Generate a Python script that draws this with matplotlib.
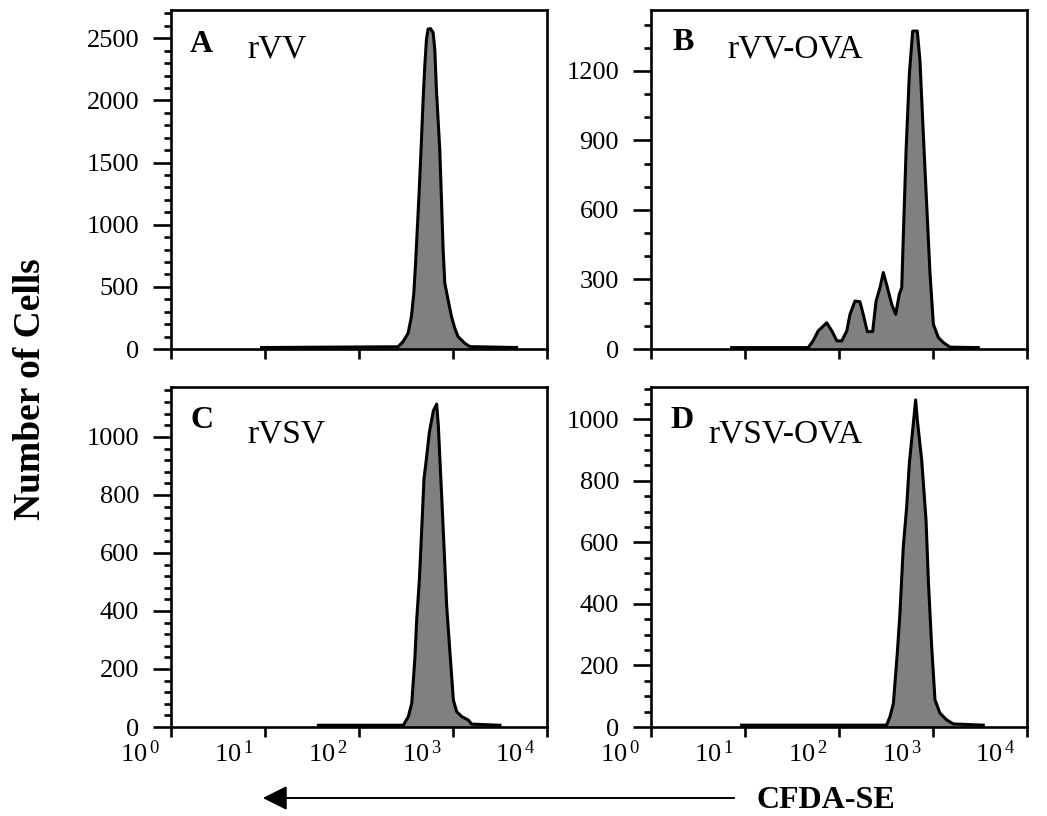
import matplotlib
matplotlib.use("Agg")
import matplotlib.pyplot as plt
import matplotlib.transforms as mtransforms
from matplotlib.patches import FancyArrowPatch
from matplotlib.ticker import MultipleLocator, LogLocator, NullFormatter, FixedLocator

plt.rcParams["font.family"] = ["Liberation Serif", "DejaVu Serif"]
plt.rcParams["mathtext.fontset"] = "custom"
plt.rcParams["mathtext.rm"] = "Liberation Serif"

# CFDA-SE intensity (x) and cell counts (y)
a_x = [9.2, 260, 294, 333, 361, 383, 398, 415, 436, 462, 481, 501, 522, 543, 575,
       614, 640, 666, 723, 754, 785, 818, 887, 964, 1045, 1133, 1336, 1511, 4750]
a_y = [12, 18, 59, 127, 260, 449, 664, 933, 1256, 1685, 2008, 2277, 2492, 2573, 2578,
       2546, 2411, 2089, 1605, 1202, 798, 530, 395, 260, 167, 99, 46, 19, 12]

b_x = [7.2, 47, 53, 60, 68, 74, 84, 95, 107, 121, 131, 148, 167, 181, 200, 228, 248,
       273, 296, 322, 364, 401, 438, 465, 484, 517, 560, 608, 681, 727, 789, 870, 929,
       1009, 1138, 1288, 1517, 3035]
b_y = [6, 6, 35, 78, 99, 113, 78, 35, 35, 78, 150, 207, 204, 150, 75, 75, 207,
       265, 330, 276, 193, 150, 236, 265, 495, 855, 1186, 1372, 1372, 1243, 926, 567, 327,
       107, 50, 28, 8, 6]

c_x = [37, 296, 335, 364, 379, 394, 411, 439, 465, 491, 516, 560, 618, 670, 698, 740,
       802, 857, 929, 1009, 1094, 1236, 1455, 1581, 3160]
c_y = [6, 6, 36, 82, 163, 243, 370, 509, 682, 855, 912, 1015, 1090, 1113, 1039, 866,
       624, 416, 255, 93, 53, 36, 24, 10, 6]

d_x = [9.2, 321, 349, 379, 417, 445, 483, 525, 560, 608, 654, 681, 758, 843, 892, 968,
       1050, 1186, 1398, 1645, 3430]
d_y = [6, 6, 34, 77, 240, 370, 586, 716, 857, 966, 1063, 998, 868, 673, 478, 261,
       88, 45, 23, 10, 6]

letters = ["A", "B", "C", "D"]
names = ["rVV", "rVV-OVA", "rVSV", "rVSV-OVA"]
ymax = [2727, 1463, 1172, 1105]
ymajor = [500, 300, 200, 200]
yminor = [100, 100, 40, 50]
ytop_tick = [2500, 1200, 1000, 1000]
xdecades = [1, 10, 100, 1000, 10000]
xlabels = [r"$\mathregular{10^{\,%d}}$" % i for i in range(5)]

fig = plt.figure(figsize=(10.47, 8.16), dpi=100)
W, H = 1047.0, 816.0
rects = [
    (171 / W, 1 - 349 / H, 376 / W, 339 / H),
    (651 / W, 1 - 349 / H, 376 / W, 339 / H),
    (171 / W, 1 - 727 / H, 376 / W, 340 / H),
    (651 / W, 1 - 727 / H, 376 / W, 340 / H),
]
letter_pos = [(0.051, 0.876), (0.056, 0.882), (0.053, 0.879), (0.051, 0.879)]
name_pos = [(0.202, 0.861), (0.202, 0.861), (0.202, 0.838), (0.152, 0.838)]
data = [(a_x, a_y), (b_x, b_y), (c_x, c_y), (d_x, d_y)]

for i, (xs, ys) in enumerate(data):
    ax = fig.add_axes(rects[i])
    ax.fill_between(xs, ys, 0, color="#808080", lw=0)
    ax.plot(xs, ys, color="black", lw=2.2, solid_joinstyle="round")
    ax.set_xscale("log")
    ax.set_xlim(1, 10000)
    ax.set_ylim(0, ymax[i])
    for s in ax.spines.values():
        s.set_linewidth(1.9)
    ax.yaxis.set_major_locator(FixedLocator(range(0, ytop_tick[i] + 1, ymajor[i])))
    ax.yaxis.set_minor_locator(MultipleLocator(yminor[i]))
    ax.xaxis.set_major_locator(FixedLocator(xdecades))
    ax.xaxis.set_minor_locator(LogLocator(base=10, subs=range(2, 10)))
    ax.xaxis.set_minor_formatter(NullFormatter())
    ax.tick_params(axis="y", which="major", direction="out", length=13, width=1.9,
                   labelsize=19, pad=10)
    ax.tick_params(axis="y", which="minor", direction="out", length=5, width=1.9)
    ax.tick_params(axis="x", which="major", direction="out", length=7, width=1.9,
                   labelsize=19, pad=3)
    ax.tick_params(axis="x", which="minor", direction="out", length=3, width=1.6)
    if i >= 2:
        ax.set_xticklabels(xlabels)
        offset = mtransforms.ScaledTranslation(-8 / 72, 0, fig.dpi_scale_trans)
        for lab in ax.get_xticklabels():
            lab.set_horizontalalignment("right")
            lab.set_transform(lab.get_transform() + offset)
    else:
        ax.set_xticklabels([])
    ax.text(letter_pos[i][0], letter_pos[i][1], letters[i], transform=ax.transAxes,
            fontsize=23, fontweight="bold", va="baseline", ha="left")
    ax.text(name_pos[i][0], name_pos[i][1], names[i], transform=ax.transAxes,
            fontsize=24, va="baseline", ha="left")

fig.text(31 / W, 1 - 389 / H, "Number of Cells", rotation=90, fontsize=27,
         fontweight="bold", ha="center", va="center")
fig.text(826 / W, 1 - 800 / H, "CFDA-SE", fontsize=23, fontweight="bold",
         ha="center", va="center")
arrow = FancyArrowPatch((737 / W, 1 - 798 / H), (260 / W, 1 - 798 / H),
                        transform=fig.transFigure,
                        arrowstyle="-|>,head_length=1.0,head_width=0.5",
                        mutation_scale=15, lw=1.4, color="black")
fig.add_artist(arrow)

fig.savefig("out.png", dpi=100)
